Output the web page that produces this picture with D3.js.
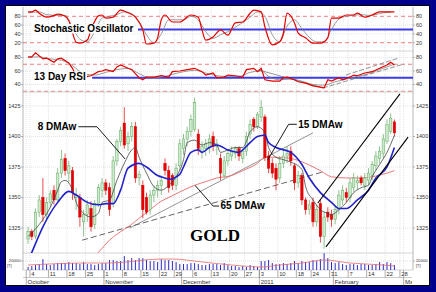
<!DOCTYPE html>
<html>
<head>
<meta charset="utf-8">
<script src="https://cdn.jsdelivr.net/npm/d3@7"></script>
<style>
  body { margin: 0; background: #fff; }
  svg { display: block; }
  text { font-family: "Liberation Sans", Arial, sans-serif; }
</style>
</head>
<body>
<svg id="chart" width="436" height="292"></svg>
<script>
// trading calendar (COMEX holidays skipped)
const holidays = ["2010-11-25", "2010-12-24", "2010-12-31", "2011-01-17", "2011-02-21"];
const monthNames = ["October", "November", "December", "2011", "February", "March"];

// daily candles, Oct 1 2010 .. Feb 24 2011
const opens  = [1316,1322,1318,1338,1350,1336,1346,1356,1348,1370,1382,1370,1372,1350,1350,1330,1336,1341,1328,1345,
                1356,1362,1358,1345,1380,1396,1411,1394,1400,1408,1366,1360,1350,1340,1352,1356,1360,1378,1372,1368,
                1360,1376,1390,1398,1404,1406,1402,1388,1390,1390,1400,1392,1382,1368,1380,1384,1386,1390,1382,1388,
                1402,1414,1408,1416,1416,1384,1378,1374,1366,1378,1384,1388,1376,1362,1368,1348,1340,1346,1330,1345,
                1318,1338,1336,1332,1340,1348,1354,1350,1358,1362,1366,1360,1364,1368,1376,1382,1386,1396,1404,1412];
const highs  = [1326,1324,1341,1352,1366,1350,1356,1360,1374,1389,1386,1380,1375,1358,1353,1340,1348,1347,1348,1361,
                1366,1365,1362,1384,1398,1408,1424,1404,1412,1412,1372,1364,1354,1356,1360,1364,1368,1382,1376,1370,
                1378,1398,1402,1408,1418,1432,1406,1396,1398,1402,1404,1398,1386,1384,1388,1392,1392,1392,1390,1404,
                1414,1416,1420,1430,1418,1388,1382,1378,1384,1390,1392,1392,1378,1372,1370,1350,1348,1350,1344,1348,
                1338,1342,1340,1344,1356,1360,1358,1366,1370,1368,1368,1370,1374,1380,1388,1392,1402,1414,1419,1414];
const lows   = [1312,1315,1316,1334,1330,1330,1342,1344,1345,1366,1368,1362,1348,1340,1326,1318,1330,1322,1324,1342,
                1350,1352,1335,1342,1376,1392,1390,1388,1396,1362,1360,1333,1336,1336,1346,1350,1352,1368,1354,1356,
                1356,1372,1385,1392,1400,1404,1385,1382,1384,1386,1388,1385,1364,1366,1376,1380,1382,1380,1378,1384,
                1398,1404,1406,1412,1380,1370,1366,1356,1362,1374,1378,1376,1356,1358,1344,1336,1336,1326,1326,1313,
                1308,1330,1326,1328,1336,1344,1346,1346,1354,1356,1360,1356,1360,1364,1372,1378,1382,1394,1402,1400];
const closes = [1322,1318,1338,1348,1336,1346,1353,1348,1370,1381,1372,1376,1354,1352,1334,1336,1344,1326,1345,1358,
                1362,1356,1340,1380,1396,1405,1393,1400,1408,1366,1369,1340,1338,1352,1356,1360,1364,1372,1358,1360,
                1374,1394,1398,1404,1414,1428,1390,1392,1394,1398,1392,1394,1370,1380,1386,1388,1390,1384,1388,1400,
                1410,1408,1418,1424,1383,1374,1370,1365,1378,1384,1386,1380,1362,1368,1348,1340,1344,1330,1340,1318,
                1334,1334,1332,1340,1352,1356,1350,1362,1366,1364,1362,1366,1370,1377,1384,1388,1398,1410,1415,1403];
const volumes = [6600,8800,11000,13200,24200,13200,11000,13200,15400,15400,15400,17600,15400,15400,13200,17600,13200,13200,11000,13200,
                 15400,15400,22000,22000,19800,19800,30800,22000,26400,22000,26400,26400,22000,19800,19800,17600,24200,22000,22000,19800,
                 17600,13200,13200,13200,15400,15400,13200,11000,11000,13200,13200,13200,11000,15400,11000,8800,8800,6600,8800,6600,
                 11000,8800,6600,19800,19800,22000,15400,13200,13200,15400,13200,15400,19800,15400,19800,17600,17600,22000,19800,24200,
                 37400,26400,17600,15400,17600,13200,11000,13200,13200,11000,13200,13200,11000,11000,13200,17600,13200,17600,15400,11000];

// moving averages (day index, price)
const ma8Days  = [0,4,6,8,9,10,12,13,15,17,19,20,22,24,26,28,29,30,32,34,36,38,40,42,43,45,47,49,51,52,54,56,58,59,60,62,64,65,67,69,71,74,75,77,79,81,82,84,86,88,90,92,93,95,97,99];
const ma8      = [1318,1332,1342,1356,1363,1364,1356,1346,1337,1334,1337,1346,1348,1364,1378,1389,1391,1383,1370,1359,1356,1360,1367,1381,1395,1397,1393,1395,1393,1387,1389,1391,1391,1396,1404,1408,1403,1391,1383,1381,1379,1373,1359,1348,1340,1337,1336,1340,1346,1354,1358,1360,1367,1377,1387,1401];
const ma15Days = [0,1,4,8,11,13,16,19,21,23,25,27,30,32,35,37,38,41,42,44,46,47,49,51,54,57,58,60,62,64,65,67,71,74,76,79,82,84,86,89,92,94,97,99];
const ma15     = [1298,1305,1326,1346,1355,1352,1346,1344,1345,1345,1356,1374,1378,1375,1368,1366,1365,1369,1375,1387,1389,1387,1391,1393,1389,1387,1389,1395,1400,1401,1395,1391,1387,1377,1366,1354,1346,1341,1341,1348,1356,1366,1375,1391];
const ma65Days = [14,19,22,25,28,30,33,36,38,42,45,48,51,55,58,62,64,67,71,75,79,82,86,90,93,97,99];
const ma65     = [1290,1305,1315,1322,1328,1333,1340,1347,1350,1356,1360,1363,1366,1368,1372,1378,1383,1383,1382,1378,1372,1367,1366,1366,1367,1370,1372];

// stochastic oscillator
const stochKDays = [0,1,2,3,5,7,8,10,11,13,14,16,17,19,20,21,23,25,27,29,31,32,34,35,36,37,39,41,44,46,47,48,50,52,54,56,58,60,61,63,64,66,68,69,70,72,73,75,77,79,81,82,84,86,88,89,91,93,95,97,99];
const stochK     = [90,90,94,87,78,82,85,80,70,21,19,26,49,81,83,76,78,94,88,78,49,17,19,31,72,83,67,67,83,78,49,26,33,49,37,65,67,87,94,90,56,15,22,42,87,65,42,31,19,19,31,76,76,83,83,87,78,83,90,90,90];
const stochDDays = [0,3,5,8,10,12,14,16,18,20,22,24,26,28,30,32,34,36,38,40,42,44,46,48,50,52,54,56,58,60,62,64,66,68,70,72,74,76,78,80,82,84,86,88,90,92,94,96,98];
const stochD     = [88,90,84,82,82,55,28,22,45,76,80,84,90,86,68,38,20,40,72,72,72,80,72,45,30,38,45,55,66,78,90,80,38,22,58,72,52,32,22,22,50,74,80,82,84,82,84,88,89];

// 13 day RSI
const rsiDays = [0,1,2,4,5,7,8,9,11,12,13,15,16,17,19,20,21,23,24,25,27,28,30,31,32,34,36,38,39,41,43,45,47,48,50,51,53,54,56,58,59,61,62,63,64,66,68,69,70,72,73,75,77,79,80,81,82,84,85,87,88,89,91,93,95,97,98,99];
const rsi     = [81,81,87,78,79,73,78,79,72,64,52,48,52,53,59,60,62,59,66,69,64,62,50,47,51,51,53,51,59,60,62,64,59,54,57,50,51,54,53,51,62,64,59,64,47,45,45,50,51,47,44,42,38,36,35,47,45,50,47,51,54,53,57,59,64,69,73,69];
const rsiSigDays = [0,3,6,9,12,15,18,21,24,27,30,33,36,39,42,45,48,51,54,57,60,63,65,68,71,74,77,80,83,86,89,92,95,98,99];
const rsiSig     = [80,81,78,76,68,56,54,58,62,64,56,50,51,55,59,61,57,53,52,52,58,60,52,47,48,45,40,39,44,48,52,56,62,68,70];

// volume moving average
const volMaDays = [0,16,22,36,39,47,55,63,68,74,80,87,96,99];
const volMa     = [11100,15500,15500,24400,24400,17800,11100,6700,11100,15500,22200,15500,11100,8900];

// axis ticks
const priceTicks = [1325, 1350, 1375, 1400, 1425];
const stochTicks = [20, 40, 60, 80];
const rsiTicks = [40, 60, 80];

// drawn annotations (day index, value)
const dashedTrend  = [[14.6, 1315], [79.7, 1371]];
const solidTrend   = [[27.5, 1325], [77, 1403]];
const channelUpper = [[78.3, 1345.5], [100.5, 1435]];
const channelLower = [[80.5, 1309.5], [102.7, 1399.5]];
const rsiDownTrend = [[62.4, 61.5], [79.7, 34.8]];
const rsiUpTrendA  = [[85.9, 54], [100, 79]];
const rsiUpTrendB  = [[79.7, 34.8], [101.6, 70.4]];
const leader8  = [[13.6, 1408], [18.6, 1408], [26.2, 1381.6]];
const leader15 = [[72.6, 1410], [70.4, 1410], [64.8, 1381]];
const leader65 = [[45.1, 1360], [50, 1343], [51.6, 1343]];

// ---------------------------------------------------------------
const fmt = d3.timeFormat("%Y-%m-%d");
const days = d3.timeDay.range(new Date(2010, 9, 1), new Date(2011, 2, 2))
    .filter(d => d.getDay() !== 0 && d.getDay() !== 6 && !holidays.includes(fmt(d)));

const L = 23, R = 413;
const x = d3.scaleLinear().domain([0, 101]).range([28.1, 401.8]);
const edge = i => x(i) - 1.85;

const yStoch = d3.scaleLinear().domain([0, 100]).range([51.5, 7.5]);
const yRsi = d3.scaleLinear().domain([30, 90]).range([91.25, 50.75]);
const yPrice = d3.scaleLinear().domain([1325, 1425]).range([228, 106]);
const yVol = d3.scaleLinear().domain([0, 20000]).range([270, 261]);

const svg = d3.select("#chart");

// frame
svg.append("rect").attr("width", 436).attr("height", 292).attr("fill", "#00008c");
svg.append("rect").attr("x", 5.5).attr("y", 5.5).attr("width", 424).attr("height", 280)
    .attr("fill", "#fff").attr("stroke", "#000").attr("stroke-width", 1);

const defs = svg.append("defs");
function clip(id, y0, y1) {
    defs.append("clipPath").attr("id", id).append("rect")
        .attr("x", L).attr("y", y0).attr("width", R - L).attr("height", y1 - y0);
    return "url(#" + id + ")";
}
const clipStoch = clip("c-stoch", 7, 51);
const clipRsi = clip("c-rsi", 51, 91.6);
const clipPrice = clip("c-price", 92, 253);
defs.append("clipPath").attr("id", "c-axis").append("rect").attr("x", 0).attr("y", 0).attr("width", 412).attr("height", 292);

// week and month starts
const weekStarts = d3.range(1, days.length).filter(i => days[i].getDay() < days[i - 1].getDay());
const monthStarts = d3.range(0, days.length).filter(i => i === 0 || days[i].getMonth() !== days[i - 1].getMonth());

// vertical grid
const grid = svg.append("g");
grid.selectAll("line.v").data(weekStarts.concat(monthStarts)).join("line")
    .attr("x1", d => edge(d)).attr("x2", d => edge(d))
    .attr("y1", 7).attr("y2", 270)
    .attr("stroke", "#d2d2d2").attr("stroke-width", 0.6).attr("stroke-dasharray", "1,1");

function hLines(vals, scale, color, dash, width) {
    grid.selectAll(null).data(vals).join("line")
        .attr("x1", L).attr("x2", R)
        .attr("y1", d => scale(d)).attr("y2", d => scale(d))
        .attr("stroke", color).attr("stroke-width", width).attr("stroke-dasharray", dash);
}
hLines([40, 60], yStoch, "#d2d2d2", "1,1", 0.6);
hLines([20, 80], yStoch, "#f08080", "4,3", 1);
hLines(rsiTicks, yRsi, "#d2d2d2", "1,1", 0.6);
hLines([30, 70], yRsi, "#f08080", "4,3", 1);
hLines(priceTicks, yPrice, "#d2d2d2", "1,1", 0.6);
hLines([20000], yVol, "#c8c8c8", "1,1", 0.6);

// panel borders
svg.append("g").selectAll("line").data([51, 92, 253, 270]).join("line")
    .attr("x1", L).attr("x2", R).attr("y1", d => d).attr("y2", d => d)
    .attr("stroke", "#b8b8b8").attr("stroke-width", 0.6);
svg.append("g").selectAll("line").data([L, R]).join("line")
    .attr("x1", d => d).attr("x2", d => d).attr("y1", 7).attr("y2", 270)
    .attr("stroke", "#999").attr("stroke-width", 0.7);

// generic line helpers
const curve = (days_, vals, ys) => d3.line().x((d, k) => x(days_[k])).y(d => ys(d)).curve(d3.curveMonotoneX)(vals);
const seg = (pts, ys) => d3.line().x(d => x(d[0])).y(d => ys(d[1]))(pts);

// ---- stochastic panel
const gs = svg.append("g").attr("clip-path", clipStoch);
gs.append("line").attr("x1", x(29.7)).attr("x2", R).attr("y1", yStoch(50)).attr("y2", yStoch(50))
    .attr("stroke", "#3a3ae6").attr("stroke-width", 2);
gs.append("path").attr("d", curve(stochDDays, stochD, yStoch)).attr("fill", "none").attr("stroke", "#808080").attr("stroke-width", 0.8);
gs.append("path").attr("d", curve(stochKDays, stochK, yStoch)).attr("fill", "none").attr("stroke", "#e60000").attr("stroke-width", 1.2);

// ---- RSI panel
const gr = svg.append("g").attr("clip-path", clipRsi);
gr.append("line").attr("x1", x(17.3)).attr("x2", R).attr("y1", yRsi(50)).attr("y2", yRsi(50))
    .attr("stroke", "#3a3ae6").attr("stroke-width", 2);
gr.append("path").attr("d", seg(rsiDownTrend, yRsi)).attr("stroke", "#666").attr("stroke-width", 0.7).attr("fill", "none");
[rsiUpTrendA, rsiUpTrendB].forEach(t => gr.append("path").attr("d", seg(t, yRsi))
    .attr("stroke", "#777").attr("stroke-width", 0.8).attr("stroke-dasharray", "5,2").attr("fill", "none"));
gr.append("path").attr("d", curve(rsiSigDays, rsiSig, yRsi)).attr("fill", "none").attr("stroke", "#808080").attr("stroke-width", 0.8);
gr.append("path").attr("d", d3.line().x((d, k) => x(rsiDays[k])).y(d => yRsi(d))(rsi))
    .attr("fill", "none").attr("stroke", "#e60000").attr("stroke-width", 1.2);

// ---- price panel
const gp = svg.append("g").attr("clip-path", clipPrice);
gp.append("path").attr("d", seg(dashedTrend, yPrice)).attr("stroke", "#555").attr("stroke-width", 0.9)
    .attr("stroke-dasharray", "6,3").attr("fill", "none");
gp.append("path").attr("d", seg(solidTrend, yPrice)).attr("stroke", "#666").attr("stroke-width", 0.7).attr("fill", "none");
gp.append("path").attr("d", curve(ma65Days, ma65, yPrice)).attr("fill", "none").attr("stroke", "#e46a6a").attr("stroke-width", 0.9);

const candles = d3.range(closes.length).map(i => ({ i, o: opens[i], h: highs[i], l: lows[i], c: closes[i] }));
const up = d => d.c >= d.o;
gp.selectAll("line.wick").data(candles).join("line")
    .attr("x1", d => x(d.i)).attr("x2", d => x(d.i))
    .attr("y1", d => yPrice(d.h)).attr("y2", d => yPrice(d.l))
    .attr("stroke", d => up(d) ? "#5fa85f" : "#e00000").attr("stroke-width", 0.7);
gp.selectAll("rect.body").data(candles).join("rect")
    .attr("x", d => x(d.i) - 1.2).attr("width", 2.4)
    .attr("y", d => yPrice(Math.max(d.o, d.c)))
    .attr("height", d => Math.max(1, Math.abs(yPrice(d.o) - yPrice(d.c))))
    .attr("fill", d => up(d) ? "#cdeccd" : "#e80000")
    .attr("stroke", d => up(d) ? "#5fa85f" : "#d00000").attr("stroke-width", 0.5);

gp.append("path").attr("d", curve(ma8Days, ma8, yPrice)).attr("fill", "none").attr("stroke", "#444").attr("stroke-width", 0.8);
gp.append("path").attr("d", curve(ma15Days, ma15, yPrice)).attr("fill", "none").attr("stroke", "#2222cc").attr("stroke-width", 1.6);
[channelUpper, channelLower].forEach(t => gp.append("path").attr("d", seg(t, yPrice))
    .attr("stroke", "#000").attr("stroke-width", 1.1).attr("fill", "none"));

// leaders and labels
[leader8, leader15, leader65].forEach(t => svg.append("path").attr("d", d3.line().x(d => x(d[0])).y(d => yPrice(d[1]))(t))
    .attr("stroke", "#000").attr("stroke-width", 0.9).attr("fill", "none"));

function label(txt, px, py, anchor, size, family) {
    return svg.append("text").attr("x", px).attr("y", py).attr("text-anchor", anchor || "start")
        .attr("font-size", size || 10).attr("font-weight", "bold").attr("fill", "#000")
        .style("font-family", family || null).text(txt);
}
label("8 DMAw", x(leader8[0][0]) - 2, yPrice(leader8[0][1]) + 3, "end");
label("15 DMAw", x(leader15[0][0]) + 1.5, yPrice(leader15[0][1]) + 3.5);
label("65 DMAw", x(leader65[2][0]) + 1.5, yPrice(leader65[2][1]) + 2.5);
label("GOLD", 190, 241, "start", 17, '"Liberation Serif", "Times New Roman", serif');

function boxedLabel(txt, px, py) {
    const t = label(txt, px, py);
    const b = t.node().getBBox();
    svg.insert("rect", () => t.node()).attr("x", b.x - 1).attr("y", b.y + 1).attr("width", b.width + 2).attr("height", b.height - 1.5).attr("fill", "#fff");
}
boxedLabel("Stochastic Oscillator", 34, 32);
boxedLabel("13 Day RSI", 34, 79.5);

// ---- volume
const gv = svg.append("g");
gv.selectAll("line.vol").data(volumes).join("line")
    .attr("x1", (d, i) => x(i)).attr("x2", (d, i) => x(i))
    .attr("y1", yVol(0)).attr("y2", d => yVol(d))
    .attr("stroke", "#2b2bc8").attr("stroke-width", 1);
gv.append("path").attr("d", curve(volMaDays, volMa, yVol)).attr("fill", "none").attr("stroke", "#e46a6a").attr("stroke-width", 0.8);

// ---- value axes
const ax = svg.append("g").attr("fill", "#333");
function sideLabels(vals, scale, size) {
    vals.forEach(v => {
        ax.append("text").attr("x", 20.5).attr("y", scale(v) + size * 0.35).attr("text-anchor", "end").attr("font-size", size).text(v);
        ax.append("text").attr("x", 416).attr("y", scale(v) + size * 0.35).attr("font-size", size).text(v);
        ax.append("line").attr("x1", R).attr("x2", R + 2).attr("y1", scale(v)).attr("y2", scale(v)).attr("stroke", "#777").attr("stroke-width", 0.5);
        ax.append("line").attr("x1", L - 2).attr("x2", L).attr("y1", scale(v)).attr("y2", scale(v)).attr("stroke", "#777").attr("stroke-width", 0.5);
    });
}
sideLabels(stochTicks, yStoch, 5.5);
sideLabels(rsiTicks, yRsi, 5.5);
sideLabels(priceTicks, yPrice, 5.5);
sideLabels([20000], yVol, 4.2);
ax.append("text").attr("x", 7).attr("y", 266.5).attr("font-size", 4).text("[T]");
ax.append("text").attr("x", 416).attr("y", 266.5).attr("font-size", 4).text("[T]");

// ---- time axis
const tx = svg.append("g").attr("clip-path", "url(#c-axis)");
tx.append("line").attr("x1", L).attr("x2", R).attr("y1", 277.5).attr("y2", 277.5).attr("stroke", "#999").attr("stroke-width", 0.5);
tx.selectAll("line.wk").data(weekStarts).join("line")
    .attr("x1", d => edge(d)).attr("x2", d => edge(d)).attr("y1", 270).attr("y2", 277.5)
    .attr("stroke", "#777").attr("stroke-width", 0.6);
tx.selectAll("text.wk").data(weekStarts).join("text")
    .attr("x", d => edge(d) + 1.3).attr("y", 276.3).attr("font-size", 5.8).attr("fill", "#333")
    .text(d => days[d].getDate());
tx.selectAll("line.mo").data(monthStarts).join("line")
    .attr("x1", d => edge(d)).attr("x2", d => edge(d)).attr("y1", 270).attr("y2", 285.5)
    .attr("stroke", "#777").attr("stroke-width", 0.6);
tx.selectAll("text.mo").data(monthStarts).join("text")
    .attr("x", d => edge(d) + 1.3).attr("y", 283.8).attr("font-size", 6).attr("fill", "#333")
    .text((d, k) => monthNames[k]);
</script>
</body>
</html>
